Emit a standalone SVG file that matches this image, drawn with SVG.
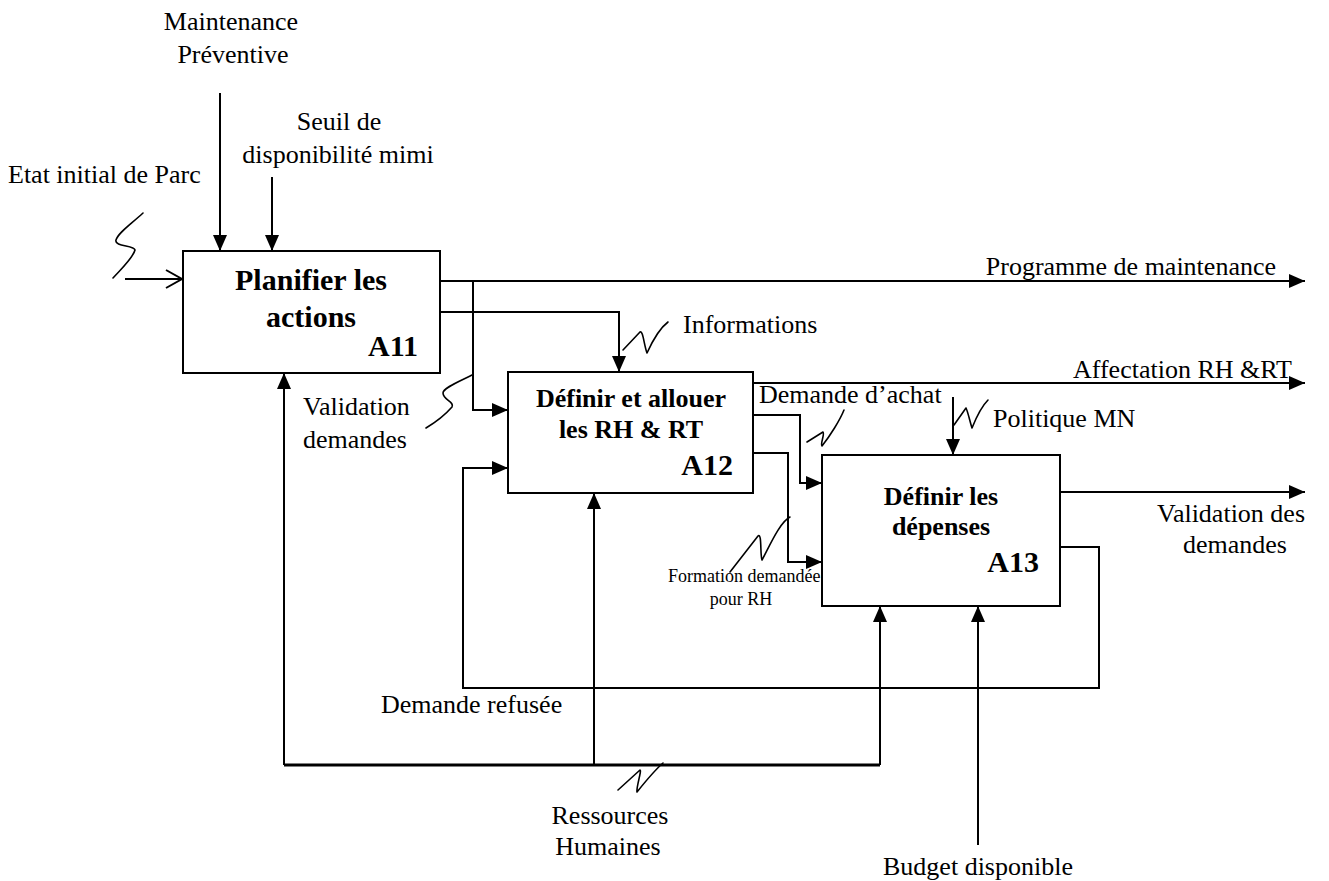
<svg xmlns="http://www.w3.org/2000/svg" width="1329" height="881" viewBox="0 0 1329 881">
  <style>
    .box { fill: #fff; stroke: #000; stroke-width: 2; }
    .ln { fill: none; stroke: #000; stroke-width: 2; }
    .arr { fill: none; stroke: #000; stroke-width: 2; marker-end: url(#tri); }
    .sq { fill: none; stroke: #000; stroke-width: 1.6; stroke-linecap: round; stroke-linejoin: round; }
    .lbl { font-family: "Liberation Serif", "Times New Roman", serif; font-size: 26px; fill: #000; }
    .sm { font-size: 18px; }
    .title { font-family: "Liberation Serif", "Times New Roman", serif; font-weight: bold; fill: #000; text-anchor: middle; }
    .code { font-family: "Liberation Serif", "Times New Roman", serif; font-weight: bold; font-size: 30px; fill: #000; text-anchor: end; }
    .mid { text-anchor: middle; }
    .end { text-anchor: end; }
  </style>
  <defs>
    <marker id="tri" viewBox="0 0 16 14" refX="16" refY="7" markerWidth="16" markerHeight="14" markerUnits="userSpaceOnUse" orient="auto">
      <path d="M0,0 L16,7 L0,14 Z" fill="#000"/>
    </marker>
  </defs>

  <!-- connectors -->
  <g id="connectors">
    <!-- controls of A11 -->
    <path class="arr" d="M220,93 V251"/>
    <path class="arr" d="M272,177 V251"/>
    <!-- input of A11 with open head -->
    <path class="ln" d="M125,279 H182"/>
    <path class="ln" d="M166,270 L182,279 L166,288"/>
    <!-- outputs of A11 -->
    <path class="arr" d="M440,281 H1305"/>
    <path class="arr" d="M473,281 V410 H508"/>
    <path class="arr" d="M440,312 H619 V372"/>
    <!-- outputs of A12 -->
    <path class="arr" d="M753,383 H1305"/>
    <path class="arr" d="M753,415 H800 V483 H822"/>
    <path class="arr" d="M753,453 H788 V562 H822"/>
    <!-- control of A13 -->
    <path class="arr" d="M953,397 V455"/>
    <!-- outputs of A13 -->
    <path class="arr" d="M1060,492 H1305"/>
    <path class="arr" d="M1060,547 H1099 V688 H463 V468 H508"/>
    <!-- mechanisms -->
    <path class="ln" d="M284,765 H880" style="stroke-width:3"/>
    <path class="arr" d="M284,765 V373"/>
    <path class="arr" d="M594,765 V493"/>
    <path class="arr" d="M880,765 V606"/>
    <path class="arr" d="M978,845 V606"/>
    <!-- squiggle tags -->
    <path class="sq" d="M143,213 C130,225 118,233 116,240 C114,247 134,245 135,250 C133,258 122,268 113,278"/>
    <path class="sq" d="M472,375 C458,382 443,388 443,393 C443,400 455,402 452,407 C445,415 436,422 426,428"/>
    <path class="sq" d="M623,350 L640,332 C643,330 644,345 647,353 C652,342 660,328 668,322"/>
    <path class="sq" d="M807,442 L823,432 C825,434 820,444 822,446 C830,436 840,420 844,410"/>
    <path class="sq" d="M954,425 L966,408 C968,412 970,422 972,428 C976,418 982,406 988,400"/>
    <path class="sq" d="M730,572 L758,536 C762,532 760,555 762,560 C770,545 780,522 790,517"/>
    <path class="sq" d="M618,790 L640,770 C642,770 636,788 637,792 C645,782 655,770 663,763"/>
  </g>

  <!-- A11 -->
  <g id="A11">
    <rect class="box" x="183" y="251" width="257" height="122"/>
    <text class="title" x="311" y="290" font-size="30">Planifier les</text>
    <text class="title" x="311" y="327" font-size="30">actions</text>
    <text class="code" x="418" y="356">A11</text>
  </g>

  <!-- A12 -->
  <g id="A12">
    <rect class="box" x="508" y="372" width="245" height="121"/>
    <text class="title" x="631" y="407" font-size="26">Définir et allouer</text>
    <text class="title" x="631" y="438" font-size="26">les RH &amp; RT</text>
    <text class="code" x="733" y="475">A12</text>
  </g>

  <!-- A13 -->
  <g id="A13">
    <rect class="box" x="822" y="455" width="238" height="151"/>
    <text class="title" x="941" y="505" font-size="26">Définir les</text>
    <text class="title" x="941" y="535" font-size="26">dépenses</text>
    <text class="code" x="1039" y="572">A13</text>
  </g>

  <!-- labels -->
  <g id="labels">
    <text class="lbl mid" x="231" y="30">Maintenance</text>
    <text class="lbl mid" x="233" y="63">Préventive</text>
    <text class="lbl mid" x="339" y="130">Seuil de</text>
    <text class="lbl mid" x="338" y="163">disponibilité mimi</text>
    <text class="lbl" x="8" y="183">Etat initial de Parc</text>
    <text class="lbl end" x="1276" y="275">Programme de maintenance</text>
    <text class="lbl" x="683" y="333">Informations</text>
    <text class="lbl" x="1073" y="378">Affectation RH &amp;RT</text>
    <text class="lbl" x="759" y="403">Demande d’achat</text>
    <text class="lbl" x="993" y="427">Politique MN</text>
    <text class="lbl" x="303" y="415">Validation</text>
    <text class="lbl" x="303" y="448">demandes</text>
    <text class="lbl mid" x="1231" y="522">Validation des</text>
    <text class="lbl mid" x="1235" y="553">demandes</text>
    <text class="lbl sm" x="668" y="582">Formation demandée</text>
    <text class="lbl sm mid" x="741" y="605">pour RH</text>
    <text class="lbl" x="381" y="713">Demande refusée</text>
    <text class="lbl mid" x="610" y="824">Ressources</text>
    <text class="lbl mid" x="608" y="855">Humaines</text>
    <text class="lbl mid" x="978" y="875">Budget disponible</text>
  </g>
</svg>
